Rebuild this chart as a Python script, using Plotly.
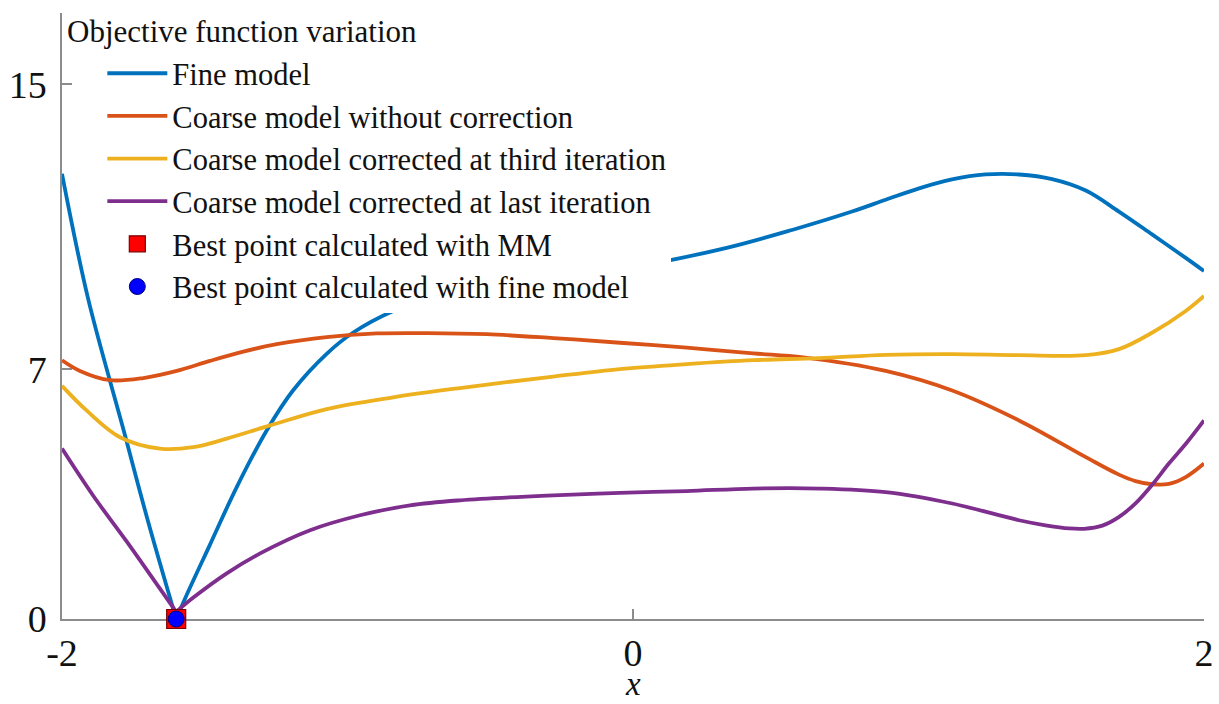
import plotly.graph_objects as go

# ---- data ----
x_fine = [-2.0, -1.909, -1.786, -1.699, -1.6, None, -1.6, -1.563, -1.482, -1.388, -1.283, -1.191,
          -1.073, -0.981, -0.84, -0.641, -0.326, 0.019, 0.328, 0.56, 0.767, 0.885, 1.002, 1.117,
          1.235, 1.352, 1.468, 1.586, 1.702, 1.818, 1.936, 2.0]
y_fine = [12.49, 9.0, 5.35, 2.75, 0.0, None, 0.0, 0.68, 2.08, 3.70, 5.29, 6.41,
          7.44, 8.03, 8.64, 9.20, 9.51, 9.90, 10.41, 10.92, 11.43, 11.76, 12.08, 12.33,
          12.47, 12.47, 12.34, 12.02, 11.43, 10.79, 10.13, 9.76]

x_coarse = [-2.0, -1.937, -1.832, -1.715, -1.598, -1.482, -1.365, -1.248, -1.073, -0.898, -0.723,
            -0.512, -0.279, -0.046, 0.188, 0.421, 0.596, 0.885, 1.118, 1.352, 1.586, 1.702,
            1.76, 1.818, 1.877, 1.936, 2.0]
y_coarse = [7.26, 6.96, 6.70, 6.76, 6.96, 7.24, 7.50, 7.71, 7.91, 8.01, 8.02,
            7.99, 7.88, 7.75, 7.61, 7.45, 7.34, 6.96, 6.41, 5.57, 4.54, 4.05,
            3.87, 3.78, 3.79, 3.98, 4.36]

x_third = [-2.0, -1.914, -1.797, -1.657, -1.54, -1.423, -1.271, -1.073, -0.84, -0.606, -0.279,
           -0.046, 0.188, 0.421, 0.651, 0.885, 1.118, 1.352, 1.586, 1.702, 1.818, 1.936, 2.0]
y_third = [6.54, 5.85, 5.10, 4.78, 4.82, 5.06, 5.43, 5.89, 6.22, 6.48, 6.80,
           7.01, 7.15, 7.26, 7.32, 7.41, 7.43, 7.40, 7.40, 7.57, 8.03, 8.64, 9.06]

x_last = [-2.0, -1.89, -1.773, -1.657, -1.6, None, -1.6, -1.54, -1.423, -1.306, -1.131, -0.956,
          -0.781, -0.606, -0.279, -0.046, 0.188, 0.421, 0.655, 0.885, 1.118, 1.352, 1.45,
          1.527, 1.58, 1.644, 1.70, 1.761, 1.82, 1.877, 1.94, 2.0]
y_last = [4.78, 3.45, 2.17, 0.85, 0.2, None, 0.2, 0.60, 1.28, 1.84, 2.49, 2.91,
          3.19, 3.33, 3.47, 3.54, 3.59, 3.66, 3.66, 3.56, 3.24, 2.77, 2.62,
          2.54, 2.53, 2.62, 2.85, 3.25, 3.78, 4.36, 4.95, 5.57]

best_mm_x = [-1.6]
best_mm_y = [0.0]
best_fine_x = [-1.6]
best_fine_y = [0.0]

x_ticks = [-2, 0, 2]
y_ticks = [0, 7, 15]

legend_title = "Objective function variation"
names = ["Fine model", "Coarse model without correction",
         "Coarse model corrected at third iteration",
         "Coarse model corrected at last iteration",
         "Best point calculated with MM", "Best point calculated with fine model"]
colors = ["#0072BD", "#D95319", "#EDB120", "#7E2F8E"]

fig = go.Figure()
for xs, ys, nm, c in zip([x_fine, x_coarse, x_third, x_last],
                         [y_fine, y_coarse, y_third, y_last], names[:4], colors):
    fig.add_trace(go.Scatter(x=xs, y=ys, mode="lines", name=nm, connectgaps=False,
                             line=dict(color=c, width=3.8, shape="spline", smoothing=1.0)))

fig.add_trace(go.Scatter(x=best_mm_x, y=best_mm_y, mode="markers", name=names[4], cliponaxis=False,
                         marker=dict(symbol="square", size=19, color="#FF0000",
                                     line=dict(color="#7a0000", width=1.2))))
fig.add_trace(go.Scatter(x=best_fine_x, y=best_fine_y, mode="markers", name=names[5], cliponaxis=False,
                         marker=dict(symbol="circle", size=16, color="#0000FF",
                                     line=dict(color="#00007a", width=1))))

axcol = "#8c8c8c"
serif = "Liberation Serif, Times New Roman, serif"
fig.update_layout(
    width=1219, height=704,
    margin=dict(l=62, r=15, t=13, b=85),
    paper_bgcolor="white", plot_bgcolor="white",
    font=dict(family=serif, color="#111111"),
    xaxis=dict(range=[-2, 2], tickvals=x_ticks, ticktext=[str(v) for v in x_ticks],
               ticks="inside", ticklen=10, tickwidth=1.5, tickcolor=axcol,
               showline=True, linecolor=axcol, linewidth=1.5, showgrid=False, zeroline=False,
               tickfont=dict(size=38), layer="below traces", automargin=False),
    yaxis=dict(range=[0, 17], tickvals=y_ticks, ticktext=[str(v) for v in y_ticks],
               ticks="inside", ticklen=10, tickwidth=1.5, tickcolor=axcol,
               showline=True, linecolor=axcol, linewidth=1.5, showgrid=False, zeroline=False,
               tickfont=dict(size=38), layer="below traces", automargin=False,
               ticklabelstandoff=6),
    legend=dict(x=0.0353, y=0.944, xanchor="left", yanchor="top",
                bgcolor="white", borderwidth=0,
                font=dict(size=30.5), itemwidth=60),
    showlegend=True,
    annotations=[
        dict(text=legend_title, xref="paper", yref="paper", x=0.0024, y=0.969,
             xanchor="left", yanchor="middle", showarrow=False, font=dict(size=31)),
        dict(text="<i>x</i>", xref="x", yref="paper", x=0, y=0, yanchor="bottom",
             yshift=-85, showarrow=False, font=dict(size=33)),
    ],
)

fig.write_html("out.html", config={"displayModeBar": False},
               post_script="document.body.style.margin='0';")
